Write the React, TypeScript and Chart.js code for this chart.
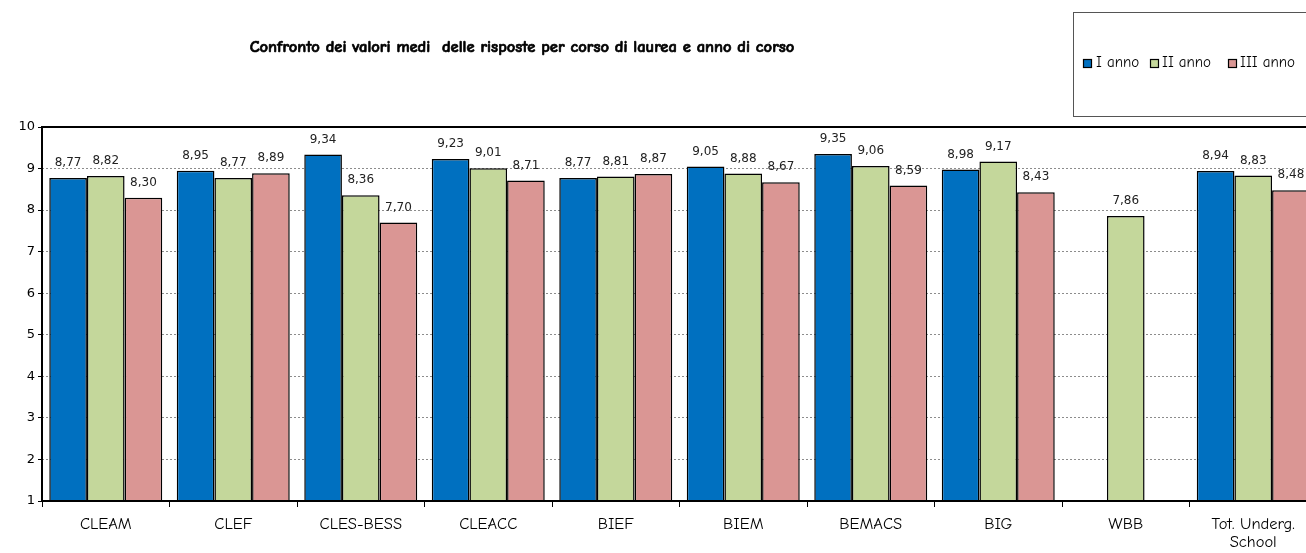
import React, { useEffect, useRef } from "react";
import { Chart, registerables } from "chart.js";

Chart.register(...registerables);

const categories: (string | string[])[] = [
  "CLEAM", "CLEF", "CLES-BESS", "CLEACC", "BIEF", "BIEM", "BEMACS", "BIG", "WBB", ["Tot. Underg.", "School"],
];
const seriesNames = ["I anno", "II anno", "III anno"];
const annoI: (number | null)[] = [8.77, 8.95, 9.34, 9.23, 8.77, 9.05, 9.35, 8.98, null, 8.94];
const annoII: (number | null)[] = [8.82, 8.77, 8.36, 9.01, 8.81, 8.88, 9.06, 9.17, 7.86, 8.83];
const annoIII: (number | null)[] = [8.30, 8.89, 7.70, 8.71, 8.87, 8.67, 8.59, 8.43, null, 8.48];
const colors = ["#0070C0", "#C4D79B", "#DA9694"];
const titleText = "Confronto dei valori medi  delle risposte per corso di laurea e anno di corso";

const comic = "'Comic Sans MS', 'Comic Neue', 'DejaVu Sans', sans-serif";
const numFont = "'DejaVu Sans', Verdana, sans-serif";

const W = 1320;
const H = 553;

const decorPlugin = {
  id: "decor",
  afterDraw(chart: any) {
    const ctx = chart.ctx;
    const a = chart.chartArea;
    ctx.save();
    ctx.strokeStyle = "#000";
    ctx.lineWidth = 2;
    ctx.beginPath();
    ctx.moveTo(a.left, a.top);
    ctx.lineTo(W, a.top);
    ctx.moveTo(a.left, a.top - 1);
    ctx.lineTo(a.left, a.bottom);
    ctx.moveTo(a.left - 1, a.bottom);
    ctx.lineTo(W, a.bottom);
    ctx.stroke();

    ctx.fillStyle = "#000";
    ctx.font = `bold 16.5px ${comic}`;
    ctx.textAlign = "center";
    ctx.textBaseline = "middle";
    ctx.fillText(titleText, 522, 47);
    ctx.lineWidth = 0.7;
    ctx.strokeStyle = "#000";
    ctx.strokeText(titleText, 522, 47);

    ctx.strokeStyle = "#555";
    ctx.lineWidth = 1;
    ctx.strokeRect(1073.5, 12.5, 300, 104);
    const items = [
      { x: 1083, tx: 1096 },
      { x: 1150, tx: 1162 },
      { x: 1228, tx: 1240 },
    ];
    ctx.font = `15px ${comic}`;
    ctx.textAlign = "left";
    ctx.textBaseline = "middle";
    items.forEach((it, i) => {
      ctx.fillStyle = colors[i];
      ctx.fillRect(it.x, 59, 8, 8);
      ctx.strokeStyle = "#000";
      ctx.lineWidth = 1.2;
      ctx.strokeRect(it.x + 0.5, 59.5, 8, 8);
      ctx.fillStyle = "#000";
      ctx.fillText(seriesNames[i], it.tx, 63);
    });
    ctx.restore();
  },
  afterDatasetsDraw(chart: any) {
    const ctx = chart.ctx;
    ctx.save();
    ctx.font = `12px ${numFont}`;
    ctx.fillStyle = "#222";
    ctx.textAlign = "center";
    ctx.textBaseline = "middle";
    chart.data.datasets.forEach((ds: any, di: number) => {
      const meta = chart.getDatasetMeta(di);
      meta.data.forEach((el: any, i: number) => {
        const v = ds.data[i];
        if (v === null || v === undefined) return;
        ctx.fillText(v.toFixed(2).replace(".", ","), el.x, el.y - 15);
      });
    });
    ctx.restore();
  },
};

export default function App() {
  const ref = useRef<HTMLCanvasElement>(null);
  useEffect(() => {
    if (!ref.current) return;
    const chart = new Chart(ref.current, {
      type: "bar",
      data: {
        labels: categories,
        datasets: [annoI, annoII, annoIII].map((d, i) => ({
          label: seriesNames[i],
          data: d,
          backgroundColor: colors[i],
          borderColor: "#000",
          borderWidth: 1.5,
          categoryPercentage: 0.886,
          barPercentage: 1.0,
        })),
      },
      options: {
        responsive: false,
        animation: false,
        layout: { padding: { top: 127, right: 3, left: 0, bottom: 0 } },
        plugins: {
          legend: { display: false },
          title: { display: false },
          tooltip: { enabled: false },
        },
        scales: {
          x: {
            grid: {
              offset: true,
              drawOnChartArea: false,
              drawTicks: true,
              tickLength: 6,
              color: "#000",
              tickColor: "#000",
              lineWidth: 1,
            },
            border: { display: false },
            ticks: {
              font: { family: comic, size: 16.5, lineHeight: 1.1 },
              color: "#000",
              padding: 8,
              maxRotation: 0,
              autoSkip: false,
            },
            afterFit: (s: any) => {
              s.height = 52;
            },
          },
          y: {
            min: 1,
            max: 10,
            grid: {
              color: "#8c8c8c",
              tickColor: "#000",
              lineWidth: 1,
              tickLength: 4,
              drawTicks: true,
            },
            border: { display: false, dash: [2, 2] },
            ticks: {
              stepSize: 1,
              font: { family: numFont, size: 13 },
              color: "#000",
              padding: 3,
            },
            afterFit: (s: any) => {
              s.width = 42;
            },
          },
        },
      },
      plugins: [decorPlugin],
    } as any);
    return () => chart.destroy();
  }, []);
  return (
    <div style={{ position: "fixed", left: 0, top: 0, width: 1306, height: 553, overflow: "hidden", background: "#fff" }}>
      <canvas ref={ref} width={W} height={H} style={{ display: "block", width: W, height: H }} />
    </div>
  );
}
